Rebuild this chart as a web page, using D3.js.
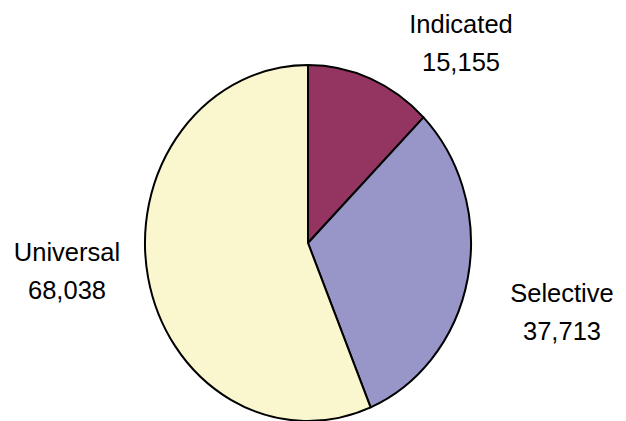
<!DOCTYPE html>
<html>
<head>
<meta charset="utf-8">
<script src="https://cdn.jsdelivr.net/npm/d3@7"></script>
<style>
  html, body { margin: 0; padding: 0; background: #ffffff; }
  svg { display: block; }
  text { font-family: Arial, "Liberation Sans", sans-serif; font-size: 25.5px; fill: #000; }
</style>
</head>
<body>
<svg id="chart" width="626" height="421"></svg>
<script>
const categories = ["Indicated", "Selective", "Universal"];
const values = [15155, 37713, 68038];
const valueLabels = ["15,155", "37,713", "68,038"];
const colors = ["#933461", "#9896c8", "#faf7cf"];

// layout
const cx = 308, cy = 243, rx = 163, ry = 178;
const labelPos = {
  "Indicated": { x: 461, y: 33 },
  "Selective": { x: 562, y: 302 },
  "Universal": { x: 67, y: 261 }
};
const lineGap = 38;

const svg = d3.select("#chart");
const data = categories.map((c, i) => ({ cat: c, value: values[i], label: valueLabels[i], color: colors[i] }));

const pie = d3.pie().sort(null).value(d => d.value);
const arc = d3.arc().innerRadius(0).outerRadius(ry);

const g = svg.append("g").attr("transform", `translate(${cx},${cy}) scale(${rx / ry},1)`);
g.selectAll("path")
  .data(pie(data))
  .join("path")
  .attr("d", arc)
  .attr("fill", d => d.data.color)
  .attr("stroke", "#000")
  .attr("stroke-width", 2)
  .attr("stroke-linejoin", "round")
  .attr("vector-effect", "non-scaling-stroke");

const lbl = svg.append("g");
data.forEach(d => {
  const p = labelPos[d.cat];
  const t = lbl.append("text").attr("text-anchor", "middle");
  t.append("tspan").attr("x", p.x).attr("y", p.y).text(d.cat);
  t.append("tspan").attr("x", p.x).attr("y", p.y + lineGap).text(d.label);
});
</script>
</body>
</html>
